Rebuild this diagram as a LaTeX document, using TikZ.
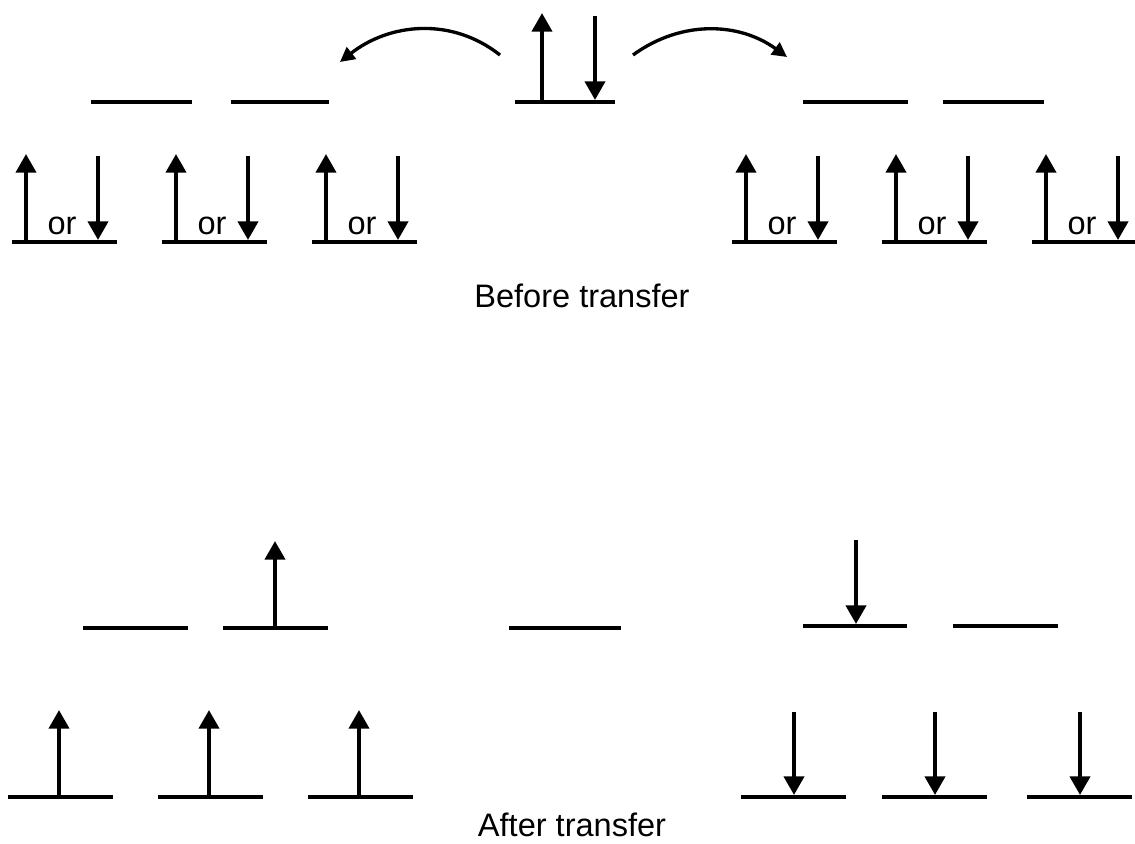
\documentclass[tikz,border=0pt]{standalone}
\usepackage{fontspec}
\setmainfont{Liberation Sans}
\usetikzlibrary{arrows.meta}
\tikzset{
  enlevel/.style={line width=3pt},
  spinarrow/.style={line width=3pt, -{Triangle[width=15pt,length=14pt]}},
  hoparrow/.style={line width=2.5pt, -{Triangle[width=11pt,length=11pt]}},
  captext/.style={font=\fontsize{24.4pt}{29pt}\selectfont, inner sep=0pt, anchor=base},
}
\begin{document}
\begin{tikzpicture}[x=0.75pt,y=-0.75pt]
\useasboundingbox (0,0) rectangle (1135,843);

% ---------- before transfer ----------
% upper orbitals
\draw[enlevel] (91,102) -- (192,102);
\draw[enlevel] (231,102) -- (329,102);
\draw[enlevel] (515,102) -- (615,102);
\draw[enlevel] (803,102) -- (908,102);
\draw[enlevel] (943,102) -- (1044,102);

% electron pair on the central orbital
\draw[spinarrow] (542,100) -- (542,13);
\draw[spinarrow] (595,16) -- (595,100);

% hopping arrows
\coordinate (hopL0) at (500,55);
\coordinate (hopL1) at (340,62);
\coordinate (hopR0) at (633,55);
\coordinate (hopR1) at (787,57);
\draw[hoparrow] (hopL0) .. controls (451,16.4) and (389,23.4) .. (hopL1);
\draw[hoparrow] (hopR0) .. controls (681,20) and (739,22) .. (hopR1);

% lower orbitals, each with one electron of either spin
\foreach \s/\n in {12/a,162/b,312/c,732/d,882/e,1032/f}{
  \draw[enlevel] (\s,242) -- (\s+105,242);
  \draw[spinarrow] (\s+14,240) -- (\s+14,154);
  \draw[spinarrow] (\s+86,156) -- (\s+86,240);
  \node[captext] (or\n) at (\s+50,234) {or};
}

\node[captext] (before) at (582,307) {Before transfer};

% ---------- after transfer ----------
\draw[enlevel] (83,628) -- (188,628);
\draw[enlevel] (223,628) -- (328,628);
\draw[enlevel] (509,628) -- (621,628);
\draw[enlevel] (803,626) -- (907,626);
\draw[enlevel] (953,626) -- (1058,626);

\draw[spinarrow] (275,626) -- (275,541);
\draw[spinarrow] (856,540) -- (856,624);

\foreach \s in {8,158,308}{
  \draw[enlevel] (\s,797) -- (\s+105,797);
  \draw[spinarrow] (\s+51,795) -- (\s+51,710);
}
\foreach \s in {741,882,1027}{
  \draw[enlevel] (\s,797) -- (\s+105,797);
  \draw[spinarrow] (\s+53,712) -- (\s+53,795);
}

\node[captext] (after) at (572,836) {After transfer};
\end{tikzpicture}
\end{document}
